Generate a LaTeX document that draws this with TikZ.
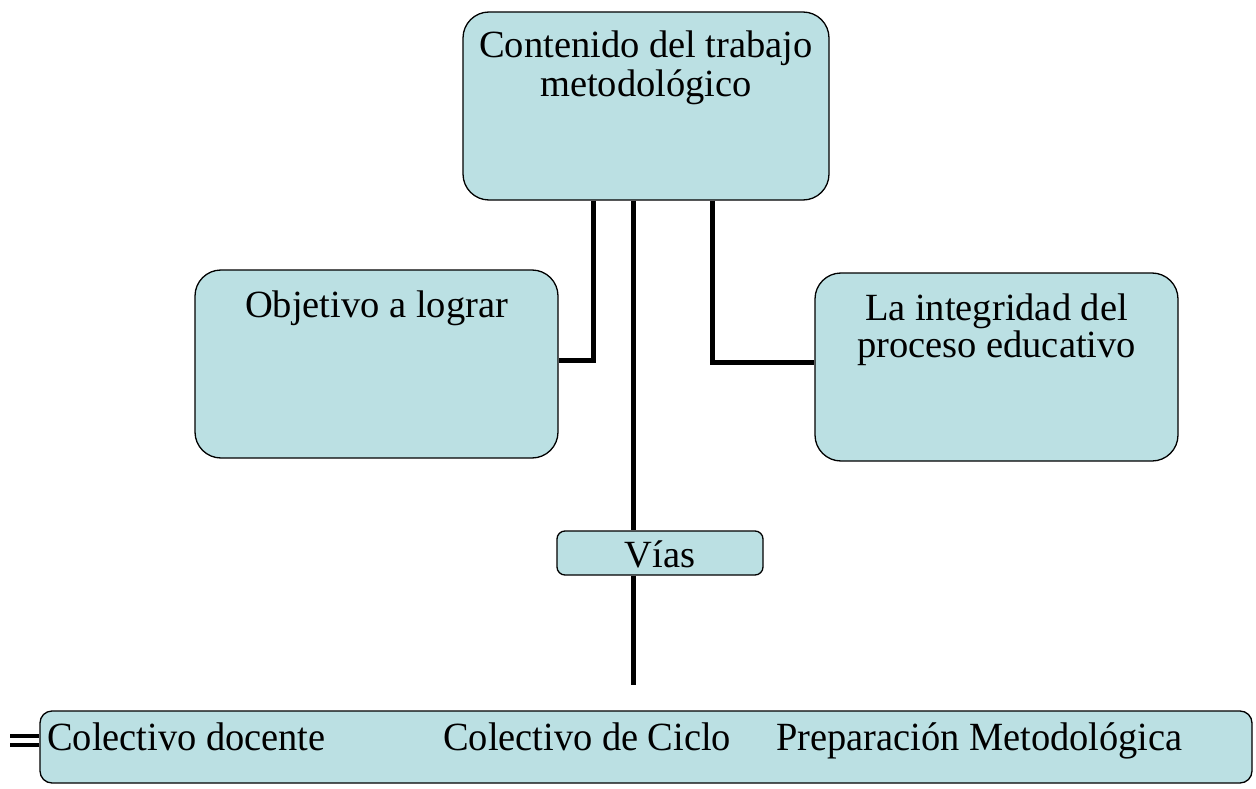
\documentclass[tikz,border=0pt]{standalone}
\usepackage{fontspec}
\setmainfont{Liberation Serif}
\newfontfamily\narrowfont[FakeStretch=0.96]{Liberation Serif}
\usepackage{tikz}
\usetikzlibrary{positioning}

\definecolor{boxblue}{HTML}{BBE0E3}
\tikzset{
  box/.style={draw, line width=1.3pt, fill=boxblue, rounded corners=26pt},
  txt/.style={align=center, font=\fontsize{38.5}{39.5}\selectfont, inner sep=0pt},
  rowtxt/.style={anchor=base west, inner sep=0pt, font=\fontsize{40}{40}\narrowfont},
  conn/.style={line width=5pt}
}

\begin{document}
\begin{tikzpicture}[x=1pt, y=-1pt]
\useasboundingbox (0,0) rectangle (1256,789);

\node[box, minimum width=366pt, minimum height=188pt] (cont) at (646,106) {};
\node[txt, anchor=north] (conttxt) at ([yshift=-19pt]cont.north) {Contenido del trabajo\\metodológico};

\node[box, minimum width=363pt, minimum height=188pt] (obj) at (376.5,364) {};
\node[txt, anchor=north] (objtxt) at ([yshift=-21pt]obj.north) {Objetivo a lograr};

\node[box, minimum width=363pt, minimum height=188pt] (integ) at (996.5,367) {};
\node[txt, anchor=north, font=\fontsize{38.5}{37.5}\selectfont] (integtxt) at ([yshift=-21pt]integ.north) {La integridad del\\proceso educativo};

\node[box, rounded corners=8pt, minimum width=206pt, minimum height=44pt] (vias) at (660,553) {};
\node[txt, anchor=base] (viastxt) at ([yshift=-14pt]vias.center) {Vías};

\node[box, rounded corners=12pt, minimum width=1212pt, minimum height=72pt] (fila) at (646,747) {};
\node[rowtxt] (coldoc) at (47,750) {Colectivo docente};
\node[rowtxt] (colcic) at (443,750) {Colectivo de Ciclo};
\node[rowtxt] (prep) at (776,750) {Preparación Metodológica};

% connectors
\draw[conn] ([xshift=-53pt]cont.south) |- ([yshift=4pt]obj.east);
\draw[conn] ([xshift=66pt]cont.south) |- ([yshift=5pt]integ.west);
\draw[conn] ([xshift=-13pt]cont.south) -- ([xshift=-27pt]vias.north);
\coordinate (vend) at (633,685);
\draw[conn] ([xshift=-27pt]vias.south) -- (vend);
\coordinate (mark) at (10,740);
\draw[line width=4pt, double=white, double distance=5pt] ([yshift=7pt]fila.west) -- (mark);
\end{tikzpicture}
\end{document}
